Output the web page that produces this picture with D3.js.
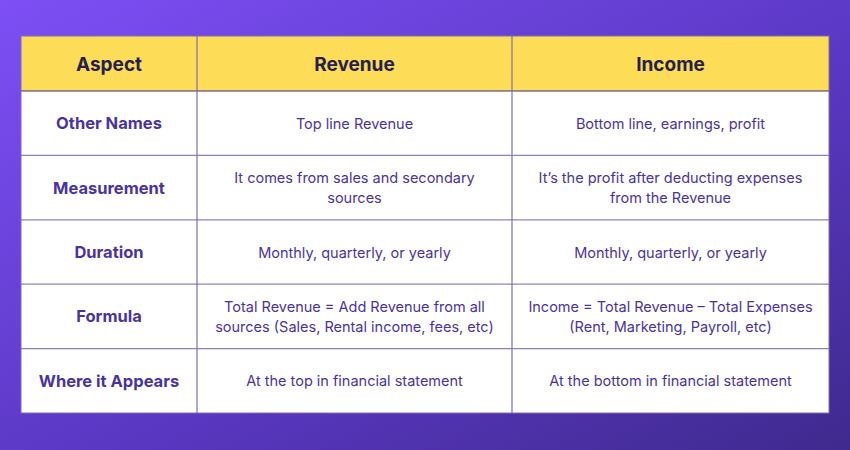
<!DOCTYPE html>
<html><head><meta charset="utf-8">
<script src="https://cdn.jsdelivr.net/npm/d3@7"></script>
<style>body{margin:0;}svg{display:block;font-family:Inter,"Open Sans",sans-serif;}</style>
</head><body><svg id="chart"></svg>
<script>
const columns = ["Aspect", "Revenue", "Income"];
const aspects = ["Other Names", "Measurement", "Duration", "Formula", "Where it Appears"];
const revenue = [
  ["Top line Revenue"],
  ["It comes from sales and secondary", "sources"],
  ["Monthly, quarterly, or yearly"],
  ["Total Revenue = Add Revenue from all", "sources (Sales, Rental income, fees, etc)"],
  ["At the top in financial statement"]
];
const income = [
  ["Bottom line, earnings, profit"],
  ["It\u2019s the profit after deducting expenses", "from the Revenue"],
  ["Monthly, quarterly, or yearly"],
  ["Income = Total Revenue \u2013 Total Expenses", "(Rent, Marketing, Payroll, etc)"],
  ["At the bottom in financial statement"]
];

const width = 850, height = 450;
const svg = d3.select("#chart").attr("width", width).attr("height", height);

const defs = svg.append("defs");
const grad = defs.append("linearGradient").attr("id", "bg")
  .attr("x1", "0").attr("y1", "0").attr("x2", "1").attr("y2", "1");
grad.append("stop").attr("offset", "0").attr("stop-color", "#7d4ff5");
grad.append("stop").attr("offset", "0.55").attr("stop-color", "#5b38c4");
grad.append("stop").attr("offset", "1").attr("stop-color", "#3f2a8e");
svg.append("rect").attr("width", width).attr("height", height).attr("fill", "url(#bg)");

// column edges and row edges
const colEdges = [21, 197, 512, 829];
const headerTop = 36, headerBottom = 91, tableBottom = 413;
const y = d3.scaleBand().domain(aspects.map((d, i) => i)).range([headerBottom, tableBottom]);

svg.append("rect").attr("x", 21).attr("y", headerTop).attr("width", 808)
  .attr("height", headerBottom - headerTop).attr("fill", "#fddc57");
svg.append("rect").attr("x", 21).attr("y", headerBottom).attr("width", 808)
  .attr("height", tableBottom - headerBottom).attr("fill", "#ffffff");

const g = svg.append("g");
columns.forEach((c, i) => {
  g.append("text").attr("x", (colEdges[i] + colEdges[i + 1]) / 2).attr("y", (headerTop + headerBottom) / 2 + 1)
    .attr("text-anchor", "middle").attr("dominant-baseline", "central")
    .attr("font-size", 19).attr("font-weight", 700).attr("fill", "#25204f").text(c);
});

aspects.forEach((a, r) => {
  const cy = y(r) + y.bandwidth() / 2;
  g.append("text").attr("x", (colEdges[0] + colEdges[1]) / 2).attr("y", cy)
    .attr("text-anchor", "middle").attr("dominant-baseline", "central")
    .attr("font-size", 16.5).attr("font-weight", 700).attr("fill", "#4a33a0").text(a);
  [revenue[r], income[r]].forEach((lines, ci) => {
    const t = g.append("text").attr("x", (colEdges[ci + 1] + colEdges[ci + 2]) / 2)
      .attr("text-anchor", "middle").attr("font-size", 14.5).attr("fill", "#4a33a0");
    lines.forEach((l, li) => {
      t.append("tspan").attr("x", (colEdges[ci + 1] + colEdges[ci + 2]) / 2)
        .attr("y", cy + (li - (lines.length - 1) / 2) * 20)
        .attr("dominant-baseline", "central").text(l);
    });
  });
});

// grid lines
const lines = svg.append("g").attr("stroke", "#7c6fb0").attr("stroke-width", 1.2);
[headerBottom, ...aspects.slice(1).map((d, i) => y(i + 1))].forEach(v =>
  lines.append("line").attr("x1", 21).attr("x2", 829).attr("y1", v).attr("y2", v)
    .attr("stroke", v === headerBottom ? "#3b2d7a" : "#8e84bd"));
colEdges.slice(1, 3).forEach(v =>
  lines.append("line").attr("x1", v).attr("x2", v).attr("y1", headerTop).attr("y2", tableBottom));
svg.append("rect").attr("x", 21).attr("y", headerTop).attr("width", 808)
  .attr("height", tableBottom - headerTop).attr("fill", "none").attr("stroke", "#7c6fb0");
</script></body></html>
